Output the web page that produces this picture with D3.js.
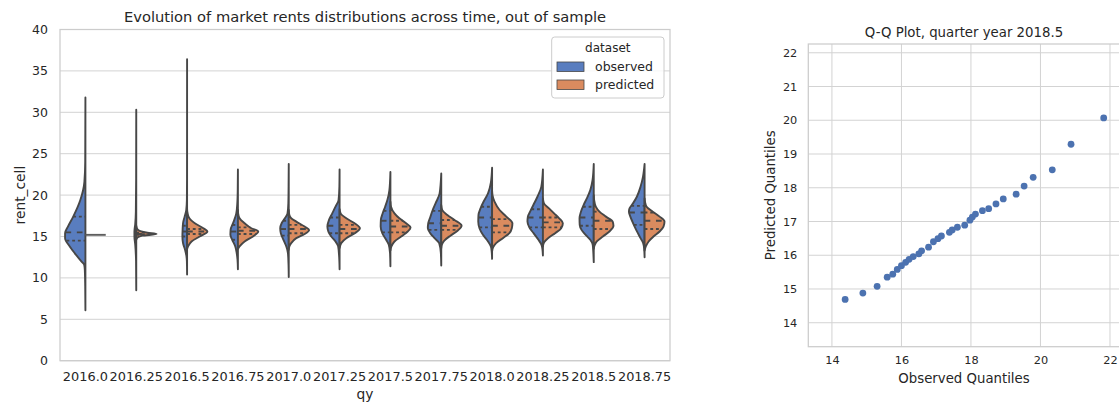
<!DOCTYPE html>
<html><head><meta charset="utf-8">
<script src="https://cdn.jsdelivr.net/npm/d3@7"></script>
<style>
body{margin:0;background:#fff;}
svg{display:block;font-family:"DejaVu Sans",sans-serif;}
</style>
</head><body>
<svg id="c" width="1119" height="405"></svg>
<script>
// ---------------- DATA ----------------
const categories = ["2016.0","2016.25","2016.5","2016.75","2017.0","2017.25","2017.5","2017.75","2018.0","2018.25","2018.5","2018.75"];
const seriesNames = ["observed","predicted"];
const yTicks = [0,5,10,15,20,25,30,35,40];

// density profiles: [rent value, relative density (1 = widest half)]
const obsProfiles = [
  [[6.1,0],[9,0.01],[11,0.03],[11.6,0.06],[12.0,0.2],[13.0,0.53],[13.8,0.77],[14.8,1.0],[15.4,1.0],[16.2,0.86],[17.4,0.6],[19.4,0.25],[21.6,0.05],[24,0.01],[31.8,0]],
  [[8.5,0],[12,0.01],[14,0.05],[15,0.09],[15.6,0.09],[16.5,0.05],[18,0.02],[22,0.005],[30.3,0]],
  [[10.4,0],[12.0,0.01],[12.6,0.03],[13.4,0.1],[14.2,0.2],[15.0,0.23],[15.8,0.22],[16.6,0.2],[17.4,0.12],[18.2,0.04],[19.4,0.01],[22,0.003],[36.4,0]],
  [[11.05,0],[12.2,0.02],[13.0,0.06],[13.8,0.13],[14.6,0.28],[15.2,0.37],[15.8,0.36],[16.8,0.21],[17.8,0.08],[19,0.03],[20.5,0.01],[23.1,0]],
  [[10.1,0],[11.5,0.01],[13.0,0.04],[13.8,0.12],[14.6,0.26],[15.4,0.39],[16.0,0.42],[16.6,0.35],[17.2,0.19],[17.8,0.06],[19,0.02],[21,0.008],[23.75,0]],
  [[11.05,0],[12.5,0.02],[13.8,0.07],[14.4,0.2],[15.0,0.41],[15.6,0.55],[16.2,0.6],[17.0,0.52],[17.8,0.36],[18.6,0.2],[19.4,0.05],[21,0.01],[23.1,0]],
  [[11.4,0],[13,0.02],[14.0,0.08],[14.6,0.21],[15.4,0.4],[16.2,0.48],[17.0,0.47],[17.8,0.38],[18.6,0.26],[19.4,0.15],[20.6,0.05],[22.8,0]],
  [[11.5,0],[13,0.02],[14.2,0.1],[14.8,0.33],[15.4,0.54],[16.0,0.66],[16.6,0.64],[17.4,0.53],[18.2,0.42],[19.0,0.28],[20.2,0.08],[22.6,0]],
  [[12.3,0],[13.2,0.02],[13.8,0.06],[14.4,0.2],[15.2,0.45],[16.0,0.62],[16.8,0.68],[17.6,0.67],[18.4,0.57],[19.2,0.42],[20.2,0.2],[21.5,0.06],[23.3,0]],
  [[12.7,0],[13.4,0.02],[14.0,0.07],[14.6,0.22],[15.4,0.46],[16.1,0.67],[16.8,0.76],[17.4,0.74],[18.0,0.63],[18.8,0.47],[19.8,0.27],[21.0,0.08],[23.1,0]],
  [[11.9,0],[13,0.02],[14.0,0.05],[14.6,0.17],[15.2,0.4],[15.8,0.6],[16.4,0.69],[17.2,0.7],[18.0,0.63],[18.8,0.5],[19.6,0.34],[20.6,0.17],[21.8,0.06],[23.75,0]],
  [[12.5,0],[13.5,0.02],[14.2,0.07],[14.8,0.2],[15.4,0.33],[16.2,0.49],[16.8,0.6],[17.4,0.7],[18.0,0.77],[18.4,0.74],[19.0,0.57],[19.8,0.38],[21.0,0.2],[22.2,0.08],[23.75,0]]
];
const predProfiles = [
  [],  // single value: see predQuartiles[0]
  [[14.6,0],[14.9,0.08],[15.1,0.3],[15.3,1.0],[15.45,0.55],[15.65,0.2],[15.9,0.05],[16.3,0]],
  [[13.5,0],[13.8,0.05],[14.4,0.22],[15.0,0.62],[15.6,1.0],[16.0,0.8],[16.6,0.38],[17.0,0.18],[17.4,0.07],[18,0.01],[18.3,0]],
  [[13.5,0],[13.8,0.08],[14.4,0.33],[15.0,0.74],[15.6,1.0],[16.0,0.66],[16.6,0.33],[17.2,0.08],[17.8,0.01],[18.2,0]],
  [[13.4,0],[13.8,0.03],[14.2,0.12],[14.8,0.37],[15.3,0.78],[15.8,1.0],[16.2,0.78],[16.8,0.37],[17.2,0.12],[17.6,0.03],[18.2,0]],
  [[13.6,0],[14.2,0.08],[14.8,0.33],[15.4,0.75],[16.0,1.0],[16.6,0.74],[17.2,0.33],[17.8,0.05],[18.3,0]],
  [[13.3,0],[13.8,0.05],[14.4,0.2],[15.0,0.53],[15.6,0.85],[16.1,0.99],[16.6,0.77],[17.2,0.44],[17.8,0.2],[18.6,0.03],[19.2,0]],
  [[13.6,0],[14.0,0.03],[14.5,0.15],[15.1,0.45],[15.7,0.8],[16.3,1.0],[17.0,0.65],[17.6,0.3],[18.2,0.05],[18.8,0]],
  [[13.2,0],[13.7,0.05],[14.2,0.2],[14.8,0.53],[15.4,0.85],[16.0,0.97],[16.6,1.0],[17.4,0.7],[18.2,0.37],[19.2,0.12],[20,0.02],[20.5,0]],
  [[13.8,0],[14.3,0.06],[14.8,0.25],[15.4,0.6],[16.0,0.9],[16.6,0.98],[17.2,0.8],[17.8,0.55],[18.4,0.3],[19.0,0.05],[19.6,0]],
  [[13.5,0],[14.0,0.05],[14.4,0.15],[15.0,0.45],[15.6,0.77],[16.3,0.97],[16.8,0.93],[17.4,0.6],[18.0,0.28],[18.6,0.1],[19.4,0.02],[20,0]],
  [[13.3,0],[13.8,0.06],[14.4,0.2],[15.0,0.44],[15.6,0.74],[16.2,0.93],[16.8,0.98],[17.4,0.74],[18.0,0.4],[18.6,0.1],[19.2,0.02],[19.6,0]]
];
// [q1, median, q3]
const obsQuartiles = [[14.5,15.5,17.4],[14.9,15.3,15.7],[15.0,15.6,16.3],[14.6,15.6,16.4],[15.1,15.9,16.9],[15.4,16.3,17.3],
  [15.5,16.9,18.1],[15.8,16.6,18.1],[16.1,17.3,18.6],[16.1,17.3,18.3],[16.3,17.3,18.6],[16.4,17.9,18.7]];
const predQuartiles = [[15.2,15.2,15.2],[15.2,15.3,15.45],[15.3,15.6,15.9],[15.3,15.7,16.1],[15.4,15.9,16.4],[15.4,15.9,16.4],
  [15.5,16.2,16.9],[15.8,16.3,17.0],[15.5,16.3,17.1],[16.1,16.7,17.3],[15.9,16.9,18.0],[15.9,16.9,17.9]];

const qqObserved  = [14.38,14.89,15.30,15.59,15.75,15.88,16.00,16.12,16.22,16.34,16.50,16.58,16.78,16.92,17.05,17.15,17.38,17.46,17.61,17.82,17.97,18.04,18.13,18.33,18.51,18.72,18.93,19.30,19.53,19.79,20.34,20.88,21.82];
const qqPredicted = [14.69,14.88,15.08,15.35,15.44,15.58,15.69,15.79,15.88,15.96,16.04,16.13,16.24,16.40,16.49,16.57,16.68,16.75,16.83,16.89,17.04,17.13,17.22,17.32,17.38,17.52,17.67,17.81,18.05,18.31,18.53,19.29,20.07];
const qqXTicks = [14,16,18,20,22];
const qqYTicks = [14,15,16,17,18,19,20,21,22];

// ---------------- STYLE ----------------
const fills = ["#597dbf","#da8b5f"];
const gray = "#474747";
const textColor = "#262626";
const gridColor = "#d3d3d3";
const frameColor = "#cccccc";
const lw = 1.9;

const svg = d3.select("#c");

// ============ LEFT: violin plot ============
const L = {left:60,right:670,top:29.5,bottom:360.7};
const x = d3.scaleBand().domain(categories).range([L.left,L.right]).padding(0);
const y = d3.scaleLinear().domain([0,40]).range([L.bottom,L.top]);
const dScale = d3.scaleLinear().domain([0,1]).range([0,x.bandwidth()*0.4]);

svg.append("g").selectAll("line").data(yTicks).join("line")
  .attr("x1",L.left).attr("x2",L.right)
  .attr("y1",d=>y(d)).attr("y2",d=>y(d))
  .attr("stroke",gridColor).attr("stroke-width",1);
svg.append("rect").attr("x",L.left).attr("y",L.top).attr("width",L.right-L.left).attr("height",L.bottom-L.top)
  .attr("fill","none").attr("stroke",frameColor).attr("stroke-width",1.25);

function densAt(profile, v){
  for(let i=0;i<profile.length-1;i++){
    const a=profile[i], b=profile[i+1];
    if(v>=a[0] && v<=b[0]){ const t=(v-a[0])/(b[0]-a[0]||1); return a[1]+t*(b[1]-a[1]); }
  }
  return 0;
}

const vg = svg.append("g");
categories.forEach((cat,i)=>{
  const c = x(cat)+x.bandwidth()/2;
  [[obsProfiles[i],obsQuartiles[i],-1,0],[predProfiles[i],predQuartiles[i],1,1]].forEach(([prof,qs,side,k])=>{
    if(prof.length===0){
      vg.append("line").attr("x1",c).attr("x2",c+side*dScale(1))
        .attr("y1",y(qs[1])).attr("y2",y(qs[1]))
        .attr("stroke","#5e5e5e").attr("stroke-width",lw);
      return;
    }
    const area = d3.area().curve(d3.curveMonotoneY)
      .y(d=>y(d[0])).x0(c).x1(d=>c+side*dScale(d[1]));
    vg.append("path").attr("d",area(prof))
      .attr("fill",fills[k]).attr("stroke",gray).attr("stroke-width",lw).attr("stroke-linejoin","round");
    qs.forEach((q,j)=>{
      const h = dScale(densAt(prof,q));
      const x1 = side<0 ? c-h : c, x2 = side<0 ? c : c+h;
      const dash = j===1 ? [lw*3,lw*3] : [lw*1.5,lw*1.5];
      vg.append("line").attr("x1",x1).attr("x2",x2).attr("y1",y(q)).attr("y2",y(q))
        .attr("stroke",gray).attr("stroke-width",lw).attr("stroke-dasharray",dash.join(","));
    });
  });
});

// axes
const ay = svg.append("g").attr("transform",`translate(${L.left},0)`)
  .call(d3.axisLeft(y).tickValues(yTicks).tickSize(0).tickPadding(12));
const ax = svg.append("g").attr("transform",`translate(0,${L.bottom})`)
  .call(d3.axisBottom(x).tickSize(0).tickPadding(11));
[ay,ax].forEach(g=>{ g.select(".domain").remove();
  g.selectAll("text").attr("fill",textColor).style("font-family","DejaVu Sans"); });
ay.selectAll("text").style("font-size","12.5px");
ax.selectAll("text").style("font-size","12.9px");

svg.append("text").attr("x",(L.left+L.right)/2).attr("y",21.5).attr("text-anchor","middle")
  .attr("fill",textColor).style("font-size","14.7px").text("Evolution of market rents distributions across time, out of sample");
svg.append("text").attr("transform",`translate(24.5,${(L.top+L.bottom)/2}) rotate(-90)`).attr("text-anchor","middle")
  .attr("fill",textColor).style("font-size","13.8px").text("rent_cell");
svg.append("text").attr("x",(L.left+L.right)/2).attr("y",399).attr("text-anchor","middle")
  .attr("fill",textColor).style("font-size","13.8px").text("qy");

// legend
const lg = svg.append("g");
lg.append("rect").attr("x",551.7).attr("y",37).attr("width",112.3).attr("height",61).attr("rx",3)
  .attr("fill","#fff").attr("fill-opacity",0.8).attr("stroke",frameColor).attr("stroke-width",1);
lg.append("text").attr("x",607.8).attr("y",51.5).attr("text-anchor","middle").attr("fill",textColor)
  .style("font-size","12px").text("dataset");
seriesNames.forEach((s,k)=>{
  const yy = 62 + k*18;
  lg.append("rect").attr("x",557).attr("y",yy).attr("width",27).attr("height",9.5)
    .attr("fill",fills[k]).attr("stroke",gray).attr("stroke-width",0.8);
  lg.append("text").attr("x",595).attr("y",yy+9.2).attr("fill",textColor).style("font-size","12.5px").text(s);
});

// ============ RIGHT: Q-Q plot ============
const R = {left:808.3,right:1119.7,top:44,bottom:346.7};
const qx = d3.scaleLinear().domain([13.32,22.28]).range([R.left,R.right]);
const qy = d3.scaleLinear().domain([13.29,22.26]).range([R.bottom,R.top]);

const rg = svg.append("g");
rg.selectAll(".gx").data(qqXTicks).join("line").attr("class","gx")
  .attr("x1",d=>qx(d)).attr("x2",d=>qx(d)).attr("y1",R.top).attr("y2",R.bottom)
  .attr("stroke",gridColor).attr("stroke-width",1);
rg.selectAll(".gy").data(qqYTicks).join("line").attr("class","gy")
  .attr("x1",R.left).attr("x2",R.right).attr("y1",d=>qy(d)).attr("y2",d=>qy(d))
  .attr("stroke",gridColor).attr("stroke-width",1);
rg.append("rect").attr("x",R.left).attr("y",R.top).attr("width",R.right-R.left).attr("height",R.bottom-R.top)
  .attr("fill","none").attr("stroke",frameColor).attr("stroke-width",1.25);

rg.selectAll("circle").data(qqObserved).join("circle")
  .attr("cx",d=>qx(d)).attr("cy",(d,i)=>qy(qqPredicted[i])).attr("r",3.4).attr("fill","#4c72b0");

const qay = svg.append("g").attr("transform",`translate(${R.left},0)`)
  .call(d3.axisLeft(qy).tickValues(qqYTicks).tickFormat(d3.format("d")).tickSize(0).tickPadding(11));
const qax = svg.append("g").attr("transform",`translate(0,${R.bottom})`)
  .call(d3.axisBottom(qx).tickValues(qqXTicks).tickFormat(d3.format("d")).tickSize(0).tickPadding(9.5));
[qay,qax].forEach(g=>{ g.select(".domain").remove();
  g.selectAll("text").attr("fill",textColor).style("font-size","11.3px").style("font-family","DejaVu Sans"); });

svg.append("text").attr("x",(R.left+R.right)/2).attr("y",36.5).attr("text-anchor","middle")
  .attr("fill",textColor).style("font-size","13.3px").text("Q-Q Plot, quarter year 2018.5");
svg.append("text").attr("x",(R.left+R.right)/2).attr("y",383).attr("text-anchor","middle")
  .attr("fill",textColor).style("font-size","13.3px").text("Observed Quantiles");
svg.append("text").attr("transform",`translate(775,${(R.top+R.bottom)/2}) rotate(-90)`).attr("text-anchor","middle")
  .attr("fill",textColor).style("font-size","13.3px").text("Predicted Quantiles");
</script>
</body></html>
